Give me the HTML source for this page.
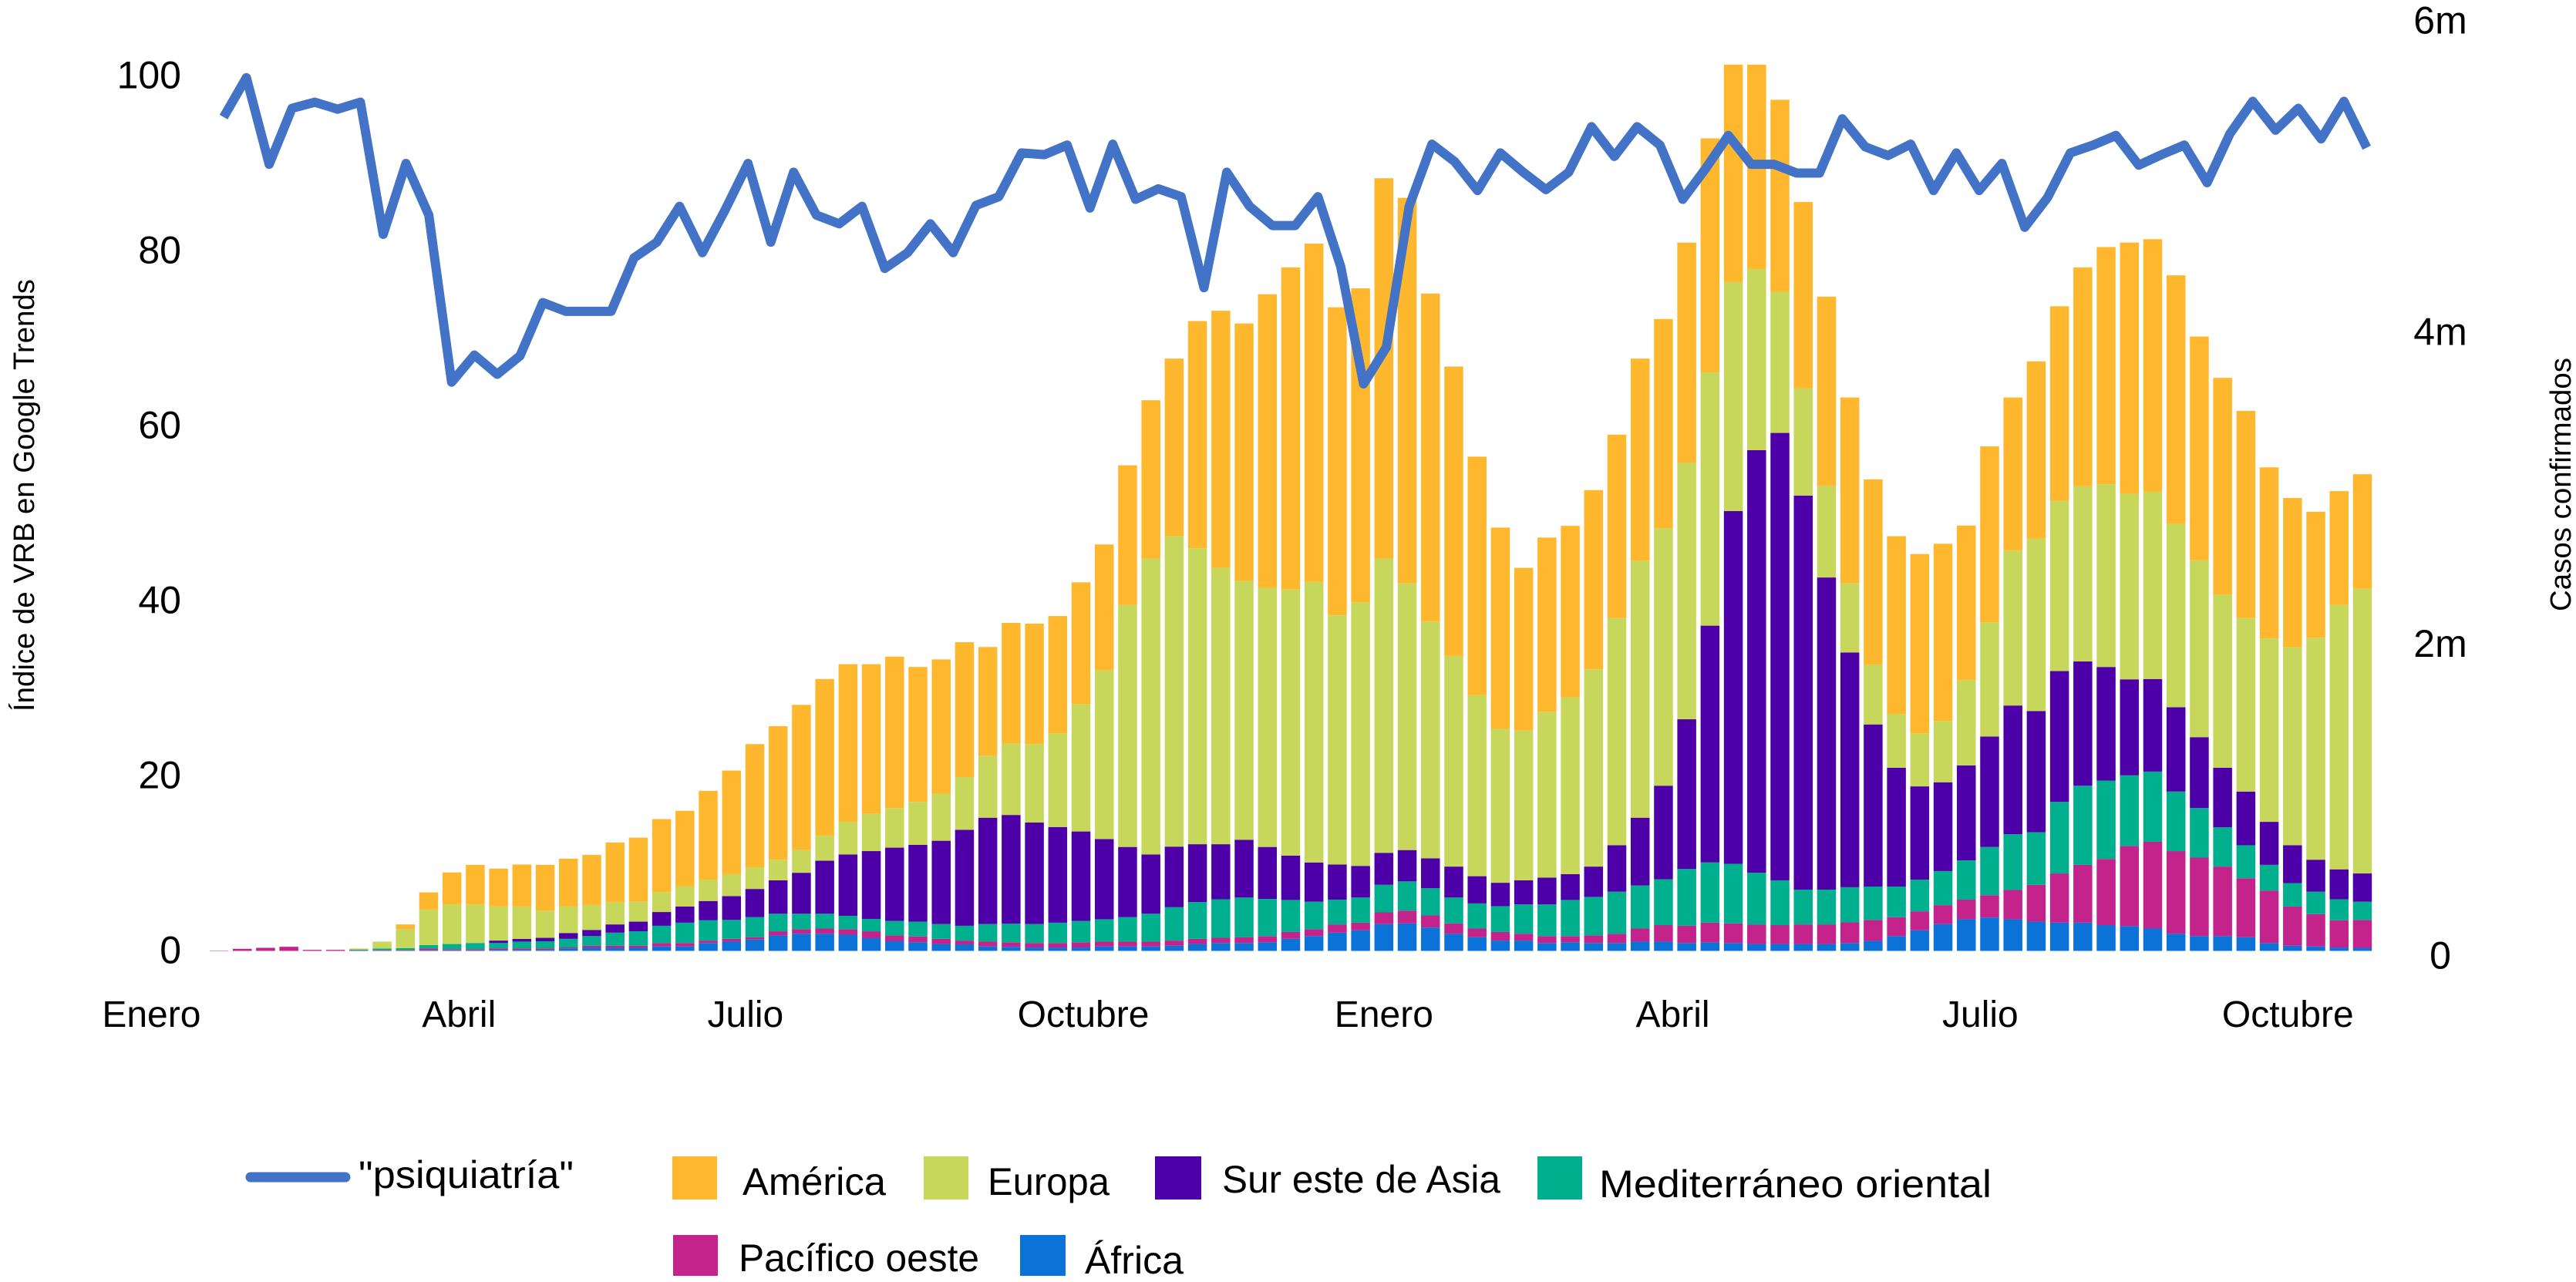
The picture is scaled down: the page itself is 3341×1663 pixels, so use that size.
<!DOCTYPE html>
<html lang="es">
<head>
<meta charset="utf-8">
<title>Índice de VRB y casos confirmados</title>
<style>
  html, body { margin: 0; padding: 0; background: #fff; width: 3341px; height: 1663px; overflow: hidden; }
  svg { display: block; }
  text { font-family: "Liberation Sans", sans-serif; fill: #000; }
  .tick { font-size: 50px; }
  .xtick { font-size: 48px; }
  .legend-text { font-size: 50px; }
  .axis-title { font-size: 38px; }
</style>
</head>
<body>
<svg id="chart" xmlns="http://www.w3.org/2000/svg" width="3341" height="1663" viewBox="0 0 3341 1663">
  <rect x="0" y="0" width="3341" height="1663" fill="#ffffff"/>
  <g id="bars"></g>
  <g id="line"></g>
  <g id="left-ticks"></g>
  <g id="right-ticks"></g>
  <g id="x-ticks"></g>

  <text class="axis-title" transform="translate(44,923) rotate(-90)" textLength="561" lengthAdjust="spacingAndGlyphs">Índice de VRB en Google Trends</text>
  <text class="axis-title" transform="translate(3334,793) rotate(-90)" textLength="329" lengthAdjust="spacingAndGlyphs">Casos confirmados</text>

  <g>
    <g>
      <line x1="325" y1="1527" x2="448" y2="1527" stroke="#4273C6" stroke-width="13" stroke-linecap="round"/>
      <text class="legend-text" x="465" y="1541" textLength="279" lengthAdjust="spacingAndGlyphs">"psiquiatría"</text>
    </g>
    <g>
      <rect x="872" y="1500" width="58" height="56" fill="#FFB82E"/>
      <text class="legend-text" x="963" y="1550" textLength="186" lengthAdjust="spacingAndGlyphs">América</text>
    </g>
    <g>
      <rect x="1198" y="1500" width="58" height="56" fill="#C7D75C"/>
      <text class="legend-text" x="1281" y="1550" textLength="158" lengthAdjust="spacingAndGlyphs">Europa</text>
    </g>
    <g>
      <rect x="1498" y="1500" width="60" height="56" fill="#4E00A8"/>
      <text class="legend-text" x="1585" y="1547" textLength="361" lengthAdjust="spacingAndGlyphs">Sur este de Asia</text>
    </g>
    <g>
      <rect x="1994" y="1500" width="58" height="56" fill="#00AF8E"/>
      <text class="legend-text" x="2074" y="1553" textLength="509" lengthAdjust="spacingAndGlyphs">Mediterráneo oriental</text>
    </g>
    <g>
      <rect x="873" y="1602" width="58" height="53" fill="#C4238C"/>
      <text class="legend-text" x="958" y="1649" textLength="312" lengthAdjust="spacingAndGlyphs">Pacífico oeste</text>
    </g>
    <g>
      <rect x="1323" y="1602" width="59" height="53" fill="#0B73D8"/>
      <text class="legend-text" x="1407" y="1652" textLength="128" lengthAdjust="spacingAndGlyphs">África</text>
    </g>
  </g>
</svg>

<script>
// Weekly confirmed cases per region, oldest first.
// One unit in these arrays equals CASES_PER_UNIT confirmed cases.
const CASES_PER_UNIT = 2208;

const africa = [0,0,0,0,0,0,0,0,0,2,2,2,3,3,3,7,9,9,9,13,13,23,27,33,45,50,50,47,37,28,25,20,19,13,12,10,10,10,13,13,13,15,20,23,23,25,35,43,53,60,78,80,68,50,40,30,30,23,25,23,23,27,27,23,25,23,20,20,20,20,23,29,43,60,78,92,97,92,85,82,82,75,72,65,50,43,43,40,23,15,13,10,9];
const pacifico = [1,6,9,12,3,3,1,2,2,5,3,3,4,4,4,3,6,6,6,10,10,7,8,7,12,13,15,16,20,17,17,15,11,14,13,13,13,15,14,14,14,15,15,15,17,18,20,20,24,22,34,37,35,30,25,25,20,20,18,22,27,38,48,50,57,57,57,55,57,57,60,61,55,55,55,57,65,85,107,143,168,192,233,252,240,228,202,171,152,114,94,79,81];
const mediterraneo = [0,0,0,0,0,0,3,5,6,10,15,18,16,20,21,25,28,38,42,50,59,59,55,58,51,45,43,39,36,42,43,43,43,51,54,55,59,62,65,71,81,97,107,112,115,108,93,80,72,73,80,85,79,75,73,75,85,92,105,112,122,125,133,165,175,173,150,130,101,101,102,97,89,92,99,114,140,162,153,208,230,228,205,204,173,144,114,96,75,68,65,61,53];
const surEsteAsia = [0,0,0,0,0,0,0,0,0,0,0,0,7,8,10,17,18,24,28,40,47,56,69,82,97,119,154,178,197,213,223,242,279,309,316,295,278,260,233,204,172,176,168,160,168,151,129,114,102,92,93,91,87,90,79,68,70,78,75,88,135,197,272,435,688,1025,1228,1300,1145,907,682,471,345,271,258,276,321,374,352,380,361,330,279,269,245,206,173,156,125,110,93,87,82];
const europa = [0,0,0,0,0,0,3,20,55,103,115,112,99,94,79,77,72,65,58,58,59,62,64,63,60,66,73,95,108,115,125,137,153,180,207,228,272,370,490,703,860,903,860,803,752,753,773,815,724,766,855,775,688,612,526,447,435,482,514,573,660,746,748,745,736,665,526,410,312,266,201,174,156,154,178,248,332,450,501,495,509,531,539,543,533,514,503,504,533,575,645,768,827];
const america = [0,0,0,0,0,0,0,0,14,50,93,115,110,122,133,139,146,173,186,212,219,258,301,358,388,422,455,458,435,440,392,390,392,316,351,350,341,354,366,406,460,515,660,747,748,853,936,983,895,912,1105,1120,953,841,693,585,473,506,498,521,533,588,608,640,680,632,594,558,541,550,540,538,517,521,515,449,511,445,515,565,636,689,730,735,722,650,630,602,497,434,366,331,333];

// Google Trends index for "psiquiatría".
const psiquiatria = [95.3,99.8,89.9,96.3,97,96.2,97,81.9,90,84.1,65,68.1,65.9,68,74.1,73.1,73.1,73.1,79.2,81,85.1,79.8,84.7,90,81,89,84.1,83.1,85.1,78,79.8,83.1,79.8,85.2,86.2,91.2,91,92.1,84.9,92.2,85.9,87.1,86.2,75.8,89,85.1,82.9,82.9,86.2,78.2,64.8,69,85.1,92.2,90.2,86.9,91.2,89,87,89,94.2,90.8,94.2,92.1,85.9,89.4,93.2,89.9,89.9,88.9,88.9,95.1,91.9,90.9,92.2,86.9,91.2,86.9,90,82.7,86.1,91.2,92.1,93.2,89.8,91,92.1,87.8,93.4,97.1,93.8,96.3,92.8,97.1,91.8];

// Tick labels.
const leftTickValues = [0, 20, 40, 60, 80, 100];
const rightTickValues = [0, 2, 4, 6];
const monthLabels = ["Enero", "Abril", "Julio", "Octubre", "Enero", "Abril", "Julio", "Octubre"];
const monthWeeks = [-2.9, 10.3, 22.6, 37.1, 50, 62.4, 75.6, 88.8];

// Stack order, bottom to top.
const stackKeys = ["africa", "pacifico", "mediterraneo", "sur-este-asia", "europa", "america"];
const stackSeries = [africa, pacifico, mediterraneo, surEsteAsia, europa, america];
const stackColors = ["#0B73D8", "#C4238C", "#00AF8E", "#4E00A8", "#C7D75C", "#FFB82E"];

// Axis functions.
const SVG_NS = "http://www.w3.org/2000/svg";
const BASE_Y = 1233.5;
const xBar = function (week) { return 284 + 30.217 * week; };
const xLine = function (week) { return 290 + 29.57 * week; };
const yLeft = function (index) { return BASE_Y - 11.35 * index; };
const yRight = function (millions) { return BASE_Y - 202.2 * millions; };
const yCases = function (units) { return yRight(units * CASES_PER_UNIT / 1e6); };

const BAR_WIDTH = 24.5;
const barsGroup = document.getElementById("bars");
america.forEach(function (_, week) {
  let running = 0;
  stackSeries.forEach(function (series, s) {
    const value = series[week] || 0;
    if (value <= 0) return;
    const rect = document.createElementNS(SVG_NS, "rect");
    
    
    rect.setAttribute("x", xBar(week) - BAR_WIDTH / 2);
    rect.setAttribute("y", yCases(running + value));
    rect.setAttribute("width", BAR_WIDTH);
    rect.setAttribute("height", yCases(running) - yCases(running + value));
    rect.setAttribute("fill", stackColors[s]);
    barsGroup.appendChild(rect);
    running += value;
  });
});

const linePath = document.createElementNS(SVG_NS, "polyline");


linePath.setAttribute("points", psiquiatria.map(function (v, i) { return xLine(i) + "," + yLeft(v); }).join(" "));
linePath.setAttribute("fill", "none");
linePath.setAttribute("stroke", "#4273C6");
linePath.setAttribute("stroke-width", "12");
linePath.setAttribute("stroke-linejoin", "round");
document.getElementById("line").appendChild(linePath);

const leftGroup = document.getElementById("left-ticks");
leftTickValues.forEach(function (v) {
  const t = document.createElementNS(SVG_NS, "text");
  
  
  t.setAttribute("class", "tick");
  t.setAttribute("x", 235);
  t.setAttribute("y", yLeft(v) + 16);
  t.setAttribute("text-anchor", "end");
  t.textContent = String(v);
  leftGroup.appendChild(t);
});

const rightGroup = document.getElementById("right-ticks");
rightTickValues.forEach(function (v) {
  const t = document.createElementNS(SVG_NS, "text");
  
  
  t.setAttribute("class", "tick");
  t.setAttribute("x", 3165);
  t.setAttribute("y", yRight(v) + 23);
  t.setAttribute("text-anchor", "middle");
  t.textContent = v === 0 ? "0" : v + "m";
  rightGroup.appendChild(t);
});

const xGroup = document.getElementById("x-ticks");
monthLabels.forEach(function (label, i) {
  const t = document.createElementNS(SVG_NS, "text");
  
  
  t.setAttribute("class", "xtick");
  t.setAttribute("x", xBar(monthWeeks[i]));
  t.setAttribute("y", 1332);
  t.setAttribute("text-anchor", "middle");
  t.textContent = label;
  xGroup.appendChild(t);
});
</script>
</body>
</html>
